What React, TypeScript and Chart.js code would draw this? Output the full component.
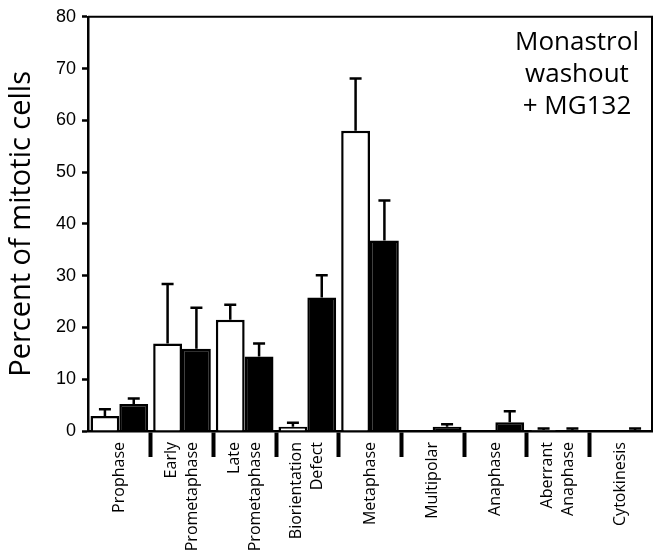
import React, { useEffect, useRef } from "react";
import { Chart, registerables } from "chart.js";

Chart.register(...registerables);

const categories: string[][] = [
  ["Prophase"],
  ["Early", "Prometaphase"],
  ["Late", "Prometaphase"],
  ["Biorientation", "Defect"],
  ["Metaphase"],
  ["Multipolar"],
  ["Anaphase"],
  ["Aberrant", "Anaphase"],
  ["Cytokinesis"],
];
const controlValues = [2.9, 16.9, 21.5, 0.8, 58, 0, 0, 0.2, 0];
const controlErrors = [1.3, 11.5, 2.9, 0.8, 10.1, 0, 0, 0.3, 0];
const treatedValues = [5.2, 15.9, 14.4, 25.8, 36.8, 0.8, 1.7, 0.2, 0.2];
const treatedErrors = [1.1, 7.9, 2.5, 4.3, 7.7, 0.5, 2.1, 0.3, 0.3];
const yTicks = [0, 10, 20, 30, 40, 50, 60, 70, 80];
const annotationLines = ["Monastrol", "washout", "+ MG132"];
const yTitle = "Percent of mitotic cells";

const errorsByDataset = [controlErrors, treatedErrors];

const errorBarPlugin = {
  id: "errorBars",
  afterDatasetsDraw(chart: any) {
    const ctx = chart.ctx;
    const yScale = chart.scales.y;
    ctx.save();
    ctx.strokeStyle = "#000";
    ctx.lineWidth = 2.5;
    chart.data.datasets.forEach((ds: any, di: number) => {
      const meta = chart.getDatasetMeta(di);
      meta.data.forEach((bar: any, i: number) => {
        const err = errorsByDataset[di][i];
        if (!err) return;
        const v = ds.data[i];
        const yTop = yScale.getPixelForValue(v + err);
        const yBar = yScale.getPixelForValue(v);
        ctx.beginPath();
        ctx.moveTo(bar.x, yBar);
        ctx.lineTo(bar.x, yTop);
        ctx.moveTo(bar.x - 6, yTop);
        ctx.lineTo(bar.x + 6, yTop);
        ctx.stroke();
      });
    });
    ctx.restore();
  },
};

const framePlugin = {
  id: "frame",
  afterDraw(chart: any) {
    const { ctx, chartArea } = chart;
    ctx.save();
    ctx.strokeStyle = "#000";
    ctx.lineWidth = 2;
    ctx.beginPath();
    ctx.moveTo(chartArea.left, chartArea.top);
    ctx.lineTo(chartArea.right, chartArea.top);
    ctx.lineTo(chartArea.right, chartArea.bottom);
    ctx.stroke();

    // annotation
    ctx.fillStyle = "#000";
    ctx.font = "26px 'Open Sans'";
    ctx.textAlign = "center";
    ctx.textBaseline = "alphabetic";
    const cx = chartArea.right - 75;
    annotationLines.forEach((line, i) => {
      ctx.fillText(line, cx, chartArea.top + 33 + i * 32);
    });

    // x category labels (rotated, multi-line, centred on category)
    const xScale = chart.scales.x;
    ctx.font = "16px 'Open Sans'";
    ctx.textAlign = "right";
    ctx.textBaseline = "middle";
    const lh = 21;
    categories.forEach((lines, i) => {
      const x = xScale.getPixelForValue(i);
      const n = lines.length;
      lines.forEach((line, j) => {
        const lx = x + (j - (n - 1) / 2) * lh;
        ctx.save();
        ctx.translate(lx, chartArea.bottom + 11);
        ctx.rotate(-Math.PI / 2);
        ctx.fillText(line, 0, 0);
        ctx.restore();
      });
    });
    ctx.restore();
  },
};

export default function App() {
  const ref = useRef<HTMLCanvasElement>(null);
  useEffect(() => {
    if (!ref.current) return;
    const chart = new Chart(ref.current, {
      type: "bar",
      data: {
        labels: categories.map((c) => c.join(" ")),
        datasets: [
          {
            label: "Control",
            data: controlValues,
            backgroundColor: "#ffffff",
            borderColor: "#000000",
            borderWidth: 2.5,
            borderSkipped: "bottom",
            categoryPercentage: 0.92,
            barPercentage: 1,
          },
          {
            label: "Treated",
            data: treatedValues,
            backgroundColor: "#000000",
            borderColor: "#000000",
            borderWidth: 2.5,
            borderSkipped: "bottom",
            categoryPercentage: 0.92,
            barPercentage: 1,
          },
        ],
      },
      options: {
        animation: false,
        responsive: true,
        maintainAspectRatio: false,
        layout: { padding: { left: 0, right: 6, top: 14, bottom: 0 } },
        plugins: { legend: { display: false }, tooltip: { enabled: false } },
        scales: {
          x: {
            border: { display: true, color: "#000", width: 2.5 },
            grid: {
              offset: true,
              drawOnChartArea: false,
              drawTicks: true,
              tickLength: 26,
              tickWidth: 4,
              tickColor: (c: any) =>
                c.type === "tick" && c.index > 0 ? "#000" : "rgba(0,0,0,0)",
            },
            ticks: { display: false },
            afterFit: (s: any) => {
              s.height = 557 - 431;
            },
          },
          y: {
            min: 0,
            max: 80,
            afterBuildTicks: (s: any) => {
              s.ticks = yTicks.map((v) => ({ value: v }));
            },
            border: { display: true, color: "#000", width: 2.5 },
            grid: {
              drawOnChartArea: false,
              drawTicks: true,
              tickLength: 6,
              tickWidth: 2.5,
              tickColor: "#000",
            },
            ticks: {
              color: "#000",
              padding: 6,
              font: { family: "'Liberation Sans', Arial, sans-serif", size: 18 },
            },
            title: {
              display: true,
              text: yTitle,
              color: "#000",
              font: { family: "'Open Sans'", size: 29 },
              padding: { top: 4, bottom: 0 },
            },
            afterFit: (s: any) => {
              s.width = 88;
            },
          },
        },
      },
      plugins: [errorBarPlugin, framePlugin],
    });
    return () => chart.destroy();
  }, []);
  return (
    <div style={{ position: "absolute", left: 0, top: 0, width: 658, height: 557, background: "#fff" }}>
      <canvas ref={ref} />
    </div>
  );
}
